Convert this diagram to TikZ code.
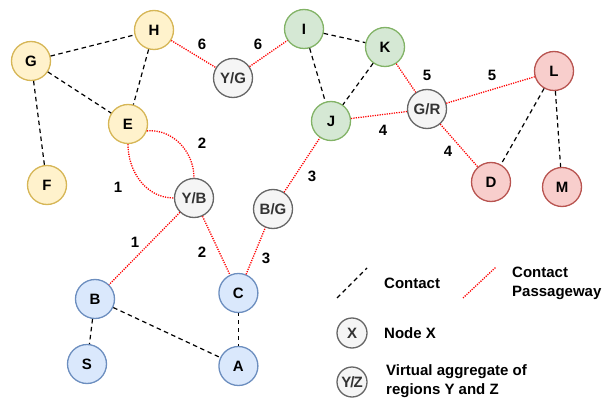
\documentclass[tikz,border=0pt]{standalone}
\usepackage{fontspec}
\setmainfont{Liberation Sans}
\definecolor{yfill}{HTML}{FFF2CC}\definecolor{ydraw}{HTML}{D6B656}
\definecolor{gfill}{HTML}{D5E8D4}\definecolor{gdraw}{HTML}{82B366}
\definecolor{rfill}{HTML}{F8CECC}\definecolor{rdraw}{HTML}{B85450}
\definecolor{bfill}{HTML}{DAE8FC}\definecolor{bdraw}{HTML}{6C8EBF}
\definecolor{vfill}{HTML}{F5F5F5}\definecolor{vdraw}{HTML}{666666}
\definecolor{vtext}{HTML}{333333}
\definecolor{pred}{HTML}{FF0000}
\begin{document}
\begin{tikzpicture}[x=1pt,y=-1pt,
  base/.style={circle,draw,line width=1.3pt,minimum size=39pt,inner sep=0pt,
    font=\fontsize{15}{17}\selectfont\bfseries},
  yel/.style={base,fill=yfill,draw=ydraw},
  grn/.style={base,fill=gfill,draw=gdraw},
  rd/.style={base,fill=rfill,draw=rdraw},
  blu/.style={base,fill=bfill,draw=bdraw},
  virt/.style={base,fill=vfill,draw=vdraw,text=vtext},
  small/.style={minimum size=30pt},
  lbl/.style={font=\fontsize{15}{17}\selectfont\bfseries,inner sep=0pt},
  contact/.style={draw=black,dash pattern=on 4.5pt off 3.5pt,line width=1.2pt},
  pass/.style={draw=pred,dash pattern=on 1.2pt off 1.2pt,line width=1.3pt}
]
\useasboundingbox (0,0) rectangle (615,398);
% nodes
\node[yel] (G) at (31,61) {G};
\node[yel] (H) at (154,30) {H};
\node[yel] (E) at (128,124) {E};
\node[yel] (F) at (47,185) {F};
\node[virt] (YG) at (233,78) {Y/G};
\node[grn] (I) at (304,29) {I};
\node[grn] (K) at (385,47) {K};
\node[grn] (J) at (331,121) {J};
\node[virt] (GR) at (427,109) {G/R};
\node[rd] (L) at (554,71) {L};
\node[rd] (D) at (491,182) {D};
\node[rd] (M) at (562,187) {M};
\node[virt] (YB) at (194,198) {Y/B};
\node[virt] (BG) at (273,209) {B/G};
\node[blu] (B) at (95,299) {B};
\node[blu] (C) at (238.4,293) {C};
\node[blu] (S) at (87,364) {S};
\node[blu] (A) at (238.4,366) {A};
% contacts
\draw[contact] (G) -- (H);
\draw[contact] (G) -- (E);
\draw[contact] (G) -- (F);
\draw[contact] (H) -- (E);
\draw[contact] (I) -- (K);
\draw[contact] (I) -- (J);
\draw[contact] (K) -- (J);
\draw[contact] (L) -- (D);
\draw[contact] (L) -- (M);
\draw[contact] (B) -- (S);
\draw[contact] (B) -- (A);
\draw[contact,line width=1.1pt,dash pattern=on 4pt off 4pt,dash phase=1pt] (C) -- (A);
% passageways
\draw[pass] (H) -- (YG);
\draw[pass] (YG) -- (I);
\draw[pass] (E.-20) to[out=5,in=90] (YB.north);
\draw[pass] (E.south) to[out=-90,in=180] (YB.west);
\draw[pass] (YB) -- (B);
\draw[pass] (YB) -- (C);
\draw[pass] (C) -- (BG);
\draw[pass] (BG) -- (J);
\draw[pass] (K) -- (GR);
\draw[pass] (J) -- (GR);
\draw[pass] (GR) -- (L);
\draw[pass] (GR) -- (D);
% edge labels
\node[lbl] (l6a) at (202,44) {6};
\node[lbl] (l6b) at (258,44) {6};
\node[lbl] (l5a) at (427,75) {5};
\node[lbl] (l5b) at (492,75) {5};
\node[lbl] (l4a) at (383,130) {4};
\node[lbl] (l4b) at (448,151) {4};
\node[lbl] (l3a) at (312,176) {3};
\node[lbl] (l3b) at (266,258) {3};
\node[lbl] (l2a) at (202,143) {2};
\node[lbl] (l2b) at (202,252) {2};
\node[lbl] (l1a) at (118,187) {1};
\node[lbl] (l1b) at (135,242) {1};
% legend
\coordinate (c1) at (337,298);
\coordinate (c2) at (367,268);
\draw[contact] (c1) -- (c2);
\node[lbl,anchor=west] (tc) at (384,283) {Contact};
\coordinate (p1) at (463,298);
\coordinate (p2) at (496,267);
\draw[pass] (p1) -- (p2);
\node[lbl,anchor=west,align=left,font=\fontsize{15}{19}\selectfont\bfseries] (tp) at (512,283) {Contact\\Passageway};
\node[virt,small] (LX) at (352,333) {X};
\node[lbl,anchor=west] (tx) at (384,333) {Node X};
\node[virt,small,font=\fontsize{15}{17}\selectfont\bfseries] (LYZ) at (352,382) {\kern-2pt Y\kern-1pt/\kern-1pt Z\kern-2pt};
\node[lbl,anchor=west,align=left,font=\fontsize{15}{19}\selectfont\bfseries] (tv) at (386,381) {Virtual aggregate of\\regions Y and Z};
\end{tikzpicture}
\end{document}
